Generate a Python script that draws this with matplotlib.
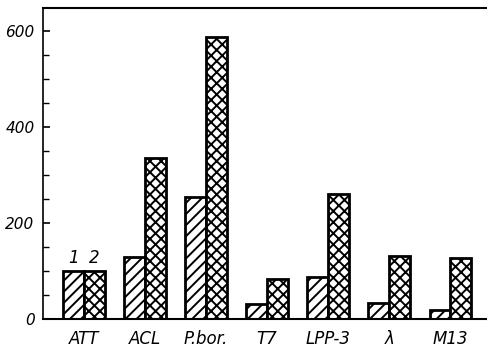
import numpy as np
import matplotlib.pyplot as plt

plt.rcParams['hatch.linewidth'] = 1.4

strains = ["ATT", "ACL", "P.bor.", "T7", "LPP-3", "λ", "M13"]
series1 = [100, 129, 254, 31, 88, 34, 19]
series2 = [100, 335, 587, 83, 260, 131, 127]

fig = plt.figure(figsize=(4.87, 3.52), dpi=100)
ax = fig.add_axes([0.088, 0.094, 0.912, 0.883])

x = np.arange(len(strains))
w = 0.34
ax.bar(x - w/2, series1, w, color="white", edgecolor="black", linewidth=2, hatch="///")
ax.bar(x + w/2, series2, w, color="white", edgecolor="black", linewidth=2, hatch="xxx")

ax.text(x[0] - w/2, series1[0] + 8, "1", ha="center", va="bottom", fontsize=12, style="italic")
ax.text(x[0] + w/2, series2[0] + 8, "2", ha="center", va="bottom", fontsize=12, style="italic")

ax.set_xlim(-0.67, 6.6)
ax.set_ylim(0, 648)
ax.set_yticks([0, 200, 400, 600])
ax.set_yticks(np.arange(0, 650, 50), minor=True)
ax.set_xticks(x)
ax.set_xticklabels(strains)
ax.tick_params(axis="y", direction="in", length=5, width=1.2, labelsize=11, pad=6)
ax.tick_params(axis="y", which="minor", direction="in", length=4, width=1)
ax.tick_params(axis="x", length=0, labelsize=12, pad=8)
for lab in ax.get_xticklabels() + ax.get_yticklabels():
    lab.set_style("italic")

ax.spines["right"].set_visible(False)
ax.spines["top"].set_linewidth(1.5)
ax.spines["left"].set_linewidth(1.2)
ax.spines["bottom"].set_linewidth(1.5)

fig.savefig("out.png", dpi=100)
